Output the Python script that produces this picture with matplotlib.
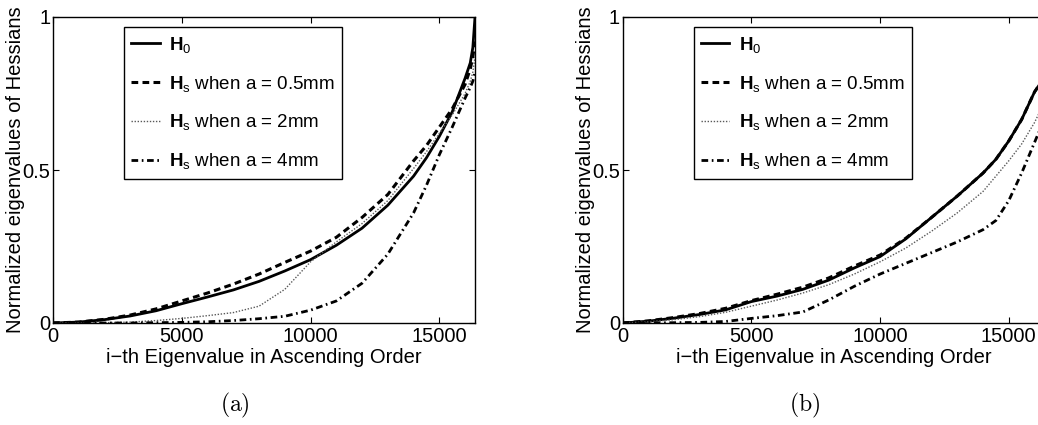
import numpy as np
import matplotlib
matplotlib.use("Agg")
import matplotlib.pyplot as plt

plt.rcParams['font.family'] = ['Liberation Sans', 'DejaVu Sans']
plt.rcParams['mathtext.fontset'] = 'custom'
plt.rcParams['mathtext.rm'] = 'Liberation Sans'
plt.rcParams['mathtext.bf'] = 'Liberation Sans:bold'
plt.rcParams['mathtext.it'] = 'Liberation Sans:italic'

# index of eigenvalue (ascending), 128x128 = 16384 total
eig_idx = [0, 1000, 2000, 3000, 4000, 5000, 6000, 7000, 8000, 9000, 10000,
           11000, 12000, 13000, 14000, 14500, 15000, 15500, 16000, 16200, 16300, 16384]

# (a)
a_h0 = [0, 0.003, 0.011, 0.023, 0.040, 0.063, 0.085, 0.108, 0.136, 0.170, 0.207,
        0.254, 0.310, 0.385, 0.480, 0.540, 0.610, 0.690, 0.800, 0.850, 0.900, 1.0]
a_05 = [0, 0.003, 0.012, 0.026, 0.046, 0.072, 0.098, 0.127, 0.160, 0.198, 0.235,
        0.280, 0.345, 0.420, 0.530, 0.580, 0.640, 0.700, 0.780, 0.830, 0.870, 0.920]
a_2 = [0, 0, 0.001, 0.003, 0.008, 0.015, 0.024, 0.034, 0.055, 0.110, 0.200,
       0.265, 0.325, 0.400, 0.505, 0.560, 0.620, 0.680, 0.750, 0.790, 0.820, 0.870]
a_4 = [0, 0, 0, 0, 0.001, 0.002, 0.004, 0.008, 0.014, 0.022, 0.042,
       0.072, 0.130, 0.225, 0.360, 0.450, 0.550, 0.640, 0.735, 0.770, 0.790, 0.820]

# (b)
b_h0 = [0, 0.006, 0.016, 0.028, 0.043, 0.070, 0.088, 0.110, 0.140, 0.180, 0.217,
        0.275, 0.345, 0.415, 0.490, 0.535, 0.595, 0.665, 0.755, 0.780, 0.820, 0.900]
b_05 = [0, 0.007, 0.018, 0.031, 0.048, 0.073, 0.094, 0.117, 0.147, 0.186, 0.222,
        0.277, 0.345, 0.415, 0.490, 0.535, 0.595, 0.665, 0.755, 0.780, 0.820, 0.900]
b_2 = [0, 0.004, 0.011, 0.021, 0.035, 0.055, 0.075, 0.098, 0.125, 0.160, 0.200,
       0.245, 0.300, 0.360, 0.430, 0.480, 0.530, 0.585, 0.655, 0.690, 0.720, 0.800]
b_4 = [0, 0, 0.001, 0.002, 0.005, 0.015, 0.024, 0.036, 0.075, 0.120, 0.160,
       0.195, 0.230, 0.265, 0.305, 0.335, 0.400, 0.490, 0.590, 0.630, 0.670, 0.750]

labels = [r'$\mathbf{H}_0$',
          r'$\mathbf{H}_\mathrm{s}$ when a = 0.5mm',
          r'$\mathbf{H}_\mathrm{s}$ when a = 2mm',
          r'$\mathbf{H}_\mathrm{s}$ when a = 4mm']

styles = [dict(color='k', lw=2.0, ls='-'),
          dict(color='k', lw=2.2, dashes=(2.2, 1.4)),
          dict(color='0.35', lw=1.0, dashes=(1, 1.2)),
          dict(color='k', lw=2.0, dashes=(2.4, 1.3, 0.6, 1.3))]

fs = 14.5

fig = plt.figure(figsize=(10.38, 4.25), dpi=100)
ax_a = fig.add_axes([53/1038, 102/425, 422/1038, 306/425])
ax_b = fig.add_axes([622.7/1038, 102/425, 421.7/1038, 306/425])

for ax, series, tag, tx in [(ax_a, [a_h0, a_05, a_2, a_4], '(a)', 235),
                            (ax_b, [b_h0, b_05, b_2, b_4], '(b)', 805)]:
    for ys, lab, st in zip(series, labels, styles):
        ax.plot(eig_idx, ys, label=lab, **st)
    ax.set_xlim(0, 16384)
    ax.set_ylim(0, 1)
    ax.set_xticks([0, 5000, 10000, 15000])
    ax.set_yticks([0, 0.5, 1])
    ax.set_yticklabels(['0', '0.5', '1'])
    ax.tick_params(direction='in', top=True, right=True, length=4, width=0.8,
                   labelsize=fs)
    ax.tick_params(axis='x', pad=3)
    ax.tick_params(axis='y', pad=2)
    for sp in ax.spines.values():
        sp.set_linewidth(1.0)
    ax.set_xlabel('i\u2212th Eigenvalue in Ascending Order', fontsize=fs, labelpad=1)
    ax.set_ylabel('Normalized eigenvalues of Hessians', fontsize=fs, va='center')
    ax.yaxis.set_label_coords(-0.088, 0.5)
    leg = ax.legend(loc='upper left', bbox_to_anchor=(0.168, 0.966), fontsize=13.5,
                    fancybox=False, framealpha=1, edgecolor='k', handlelength=1.5,
                    handletextpad=0.5, borderpad=0.4, labelspacing=1.0,
                    borderaxespad=0)
    leg.get_frame().set_linewidth(1.0)
    fig.text(tx/1038, 20/425, r'$\mathrm{' + tag + '}$', fontsize=17,
             ha='center', va='center', math_fontfamily='cm')

fig.savefig('out.png', dpi=100)
